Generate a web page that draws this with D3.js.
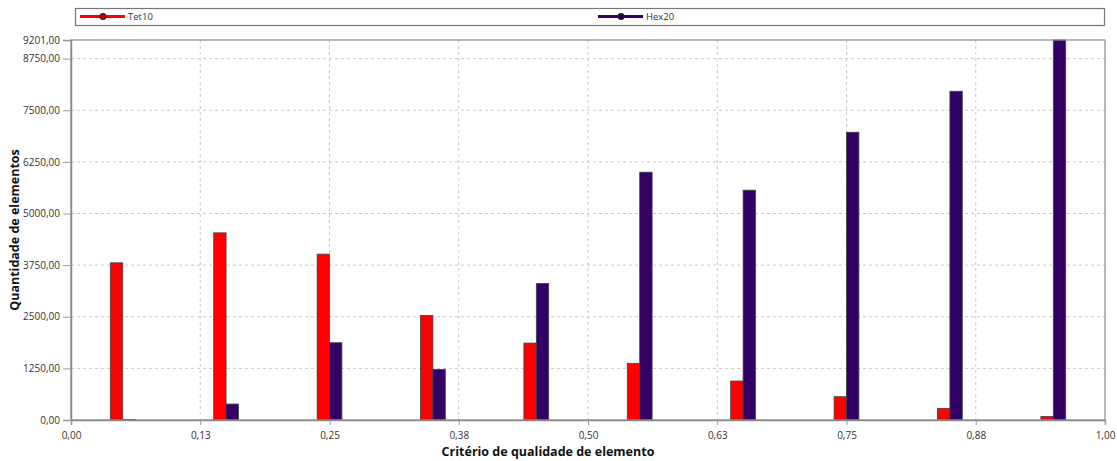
<!DOCTYPE html>
<html><head><meta charset="utf-8">
<script src="https://cdn.jsdelivr.net/npm/d3@7"></script>
<style>
body{margin:0;background:#fff;}
text{font-family:"Open Sans","DejaVu Sans",sans-serif;}
</style></head>
<body><svg id="c" width="1117" height="461"></svg>
<script>
const binCenters = [0.05,0.15,0.25,0.35,0.45,0.55,0.65,0.75,0.85,0.95];
const tet10 = [3806,4532,4016,2533,1863,1372,944,564,283,85];
const hex20 = [12,387,1871,1226,3307,6000,5565,6968,7960,9201];
const seriesNames = ["Tet10","Hex20"];
const xTicks = [0,0.125,0.25,0.375,0.5,0.625,0.75,0.875,1.0];
const xTickLabels = ["0,00","0,13","0,25","0,38","0,50","0,63","0,75","0,88","1,00"];
const yTicks = [0,1250,2500,3750,5000,6250,7500,8750,9201];
const yTickLabels = ["0,00","1250,00","2500,00","3750,00","5000,00","6250,00","7500,00","8750,00","9201,00"];
const xTitle = "Critério de qualidade de elemento";
const yTitle = "Quantidade de elementos";

const colors = ["#ff0000","#330066"];
const svg = d3.select("#c");
const L=71,R=1105,T=40,B=420;
const x = d3.scaleLinear().domain([0,1]).range([L,R]);
const y = d3.scaleLinear().domain([0,9201]).range([B,T]);
const bw = 0.012;

// grid
const g = svg.append("g");
g.selectAll("line.hg").data(yTicks.filter(v=>v>0&&v<9201)).join("line")
 .attr("x1",L).attr("x2",R).attr("y1",d=>y(d)).attr("y2",d=>y(d))
 .attr("stroke","#c8c8c8").attr("stroke-dasharray","3,3");
g.selectAll("line.vg").data(xTicks.filter(v=>v>0&&v<1)).join("line")
 .attr("y1",T).attr("y2",B).attr("x1",d=>x(d)).attr("x2",d=>x(d))
 .attr("stroke","#c8c8c8").attr("stroke-dasharray","3,3");

// bars
const series=[tet10,hex20];
series.forEach((vals,si)=>{
  svg.append("g").selectAll("rect").data(vals).join("rect")
   .attr("x",(d,i)=>x(binCenters[i]+(si===0?-bw:0)))
   .attr("width",(d,i)=>x(binCenters[i]+bw)-x(binCenters[i]))
   .attr("y",d=>y(d)).attr("height",d=>y(0)-y(d))
   .attr("fill",colors[si]).attr("stroke","#444").attr("stroke-width",0.8);
});

// frame
svg.append("rect").attr("x",L).attr("y",T).attr("width",R-L).attr("height",B-T)
 .attr("fill","none").attr("stroke","#8a8a8a").attr("stroke-width",1.2);

// axes
const ya = d3.axisLeft(y).tickValues(yTicks).tickFormat((d,i)=>yTickLabels[i]).tickSize(8).tickPadding(3);
const yg = svg.append("g").attr("transform",`translate(${L},0)`).call(ya);
const xa = d3.axisBottom(x).tickValues(xTicks).tickFormat((d,i)=>xTickLabels[i]).tickSize(5).tickPadding(7);
const xg = svg.append("g").attr("transform",`translate(0,${B})`).call(xa);
[yg,xg].forEach(a=>{
  a.select(".domain").attr("stroke","#8a8a8a").attr("stroke-width",1.5);
  a.selectAll(".tick line").attr("stroke","#999");
  a.selectAll(".tick text").attr("fill","#333").style("font-size","10px");
});

// titles
svg.append("text").attr("x",(L+R)/2-40).attr("y",456).attr("text-anchor","middle")
 .style("font-size","12.5px").style("font-weight","bold").attr("fill","#111").text(xTitle);
svg.append("text").attr("transform","translate(19,230) rotate(-90)").attr("text-anchor","middle")
 .style("font-size","12.5px").style("font-weight","bold").attr("fill","#111").text(yTitle);

// legend
svg.append("rect").attr("x",75.5).attr("y",8.5).attr("width",1029).attr("height",17)
 .attr("fill","#fff").attr("stroke","#777").attr("stroke-width",1.2);
const legX=[80,598];
seriesNames.forEach((n,i)=>{
  const lg=svg.append("g");
  lg.append("line").attr("x1",legX[i]).attr("x2",legX[i]+45).attr("y1",16.5).attr("y2",16.5)
    .attr("stroke",colors[i]).attr("stroke-width",3);
  lg.append("circle").attr("cx",legX[i]+23).attr("cy",16.5).attr("r",3.2)
    .attr("fill",i===0?"#b00000":"#220044").attr("stroke","#222").attr("stroke-width",0.8);
  lg.append("text").attr("x",legX[i]+48).attr("y",20).style("font-size","9.5px").attr("fill","#333").text(n);
});
</script></body></html>
